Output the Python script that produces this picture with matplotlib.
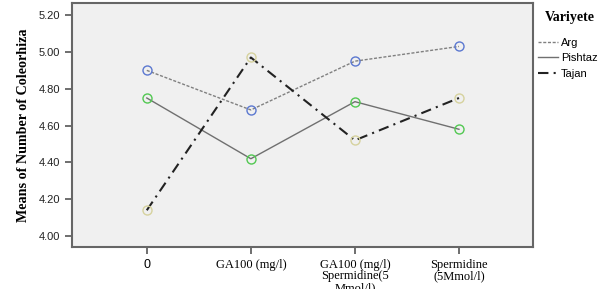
import matplotlib
matplotlib.use("Agg")
import matplotlib.pyplot as plt
from matplotlib.lines import Line2D

# ---- data ----
categories = ["0", "GA100 (mg/l)", "GA100 (mg/l)\nSpermidine(5\nMmol/l)", "Spermidine\n(5Mmol/l)"]
arg = [4.90, 4.685, 4.95, 5.03]
pishtaz = [4.75, 4.42, 4.73, 4.58]
tajan = [4.14, 4.97, 4.52, 4.75]
y_ticks = [4.00, 4.20, 4.40, 4.60, 4.80, 5.00, 5.20]

series = [
    ("Arg", arg, "#808080", (0, (2.2, 1.2)), 1.0, "#5B78D0"),
    ("Pishtaz", pishtaz, "#707070", "-", 1.0, "#52C852"),
    ("Tajan", tajan, "#222222", (0, (5, 2.5, 1, 2.5)), 1.5, "#D6D29E"),
]

fig = plt.figure(figsize=(6.09, 2.89), dpi=100)
ax = fig.add_axes([0.118, 0.145, 0.757, 0.844])
ax.set_facecolor("#F0F0F0")

x = list(range(len(categories)))
handles = []
for name, vals, lc, ls, lw, mc in series:
    ax.plot(x, vals, color=lc, linestyle=ls, linewidth=lw, zorder=2)
    ax.plot(x, vals, linestyle="none", marker="o", markersize=6.5,
            markerfacecolor="none", markeredgecolor=mc, markeredgewidth=1.0, zorder=3)
    handles.append(Line2D([], [], color=lc, linestyle=ls, linewidth=lw, label=name))

ax.set_xlim(-0.72, 3.71)
ax.set_ylim(3.94, 5.265)
ax.set_yticks(y_ticks)
ax.set_yticklabels([f"{v:.2f}" for v in y_ticks], family="Liberation Sans", fontsize=8, color="#222222")
ax.set_xticks(x)
ax.set_xticklabels(categories, family="Liberation Serif", fontsize=9, linespacing=0.95)
ax.get_xticklabels()[0].set_family("Liberation Sans")
ax.tick_params(direction="out", length=5, width=1.2, color="#555555")
for sp in ax.spines.values():
    sp.set_color("#666666")
    sp.set_linewidth(1.5)

ax.set_ylabel("Means of Number of Coleorhiza", family="Liberation Serif",
              fontweight="bold", fontsize=10.2, labelpad=6)

# legend: title placed separately to get the wider gap seen in the reference
fig.text(545 / 609, 1 - 18 / 289, "Variyete", family="Liberation Serif",
         fontweight="bold", fontsize=10, va="center", ha="left")
fig.legend(handles=handles, loc="upper left",
           bbox_to_anchor=(530 / 609, 1 - 30 / 289), frameon=False,
           prop={"family": "Liberation Sans", "size": 8},
           handlelength=1.8, handletextpad=0.3, labelspacing=0.5,
           borderpad=0.2)

fig.savefig("out.png", dpi=100)
